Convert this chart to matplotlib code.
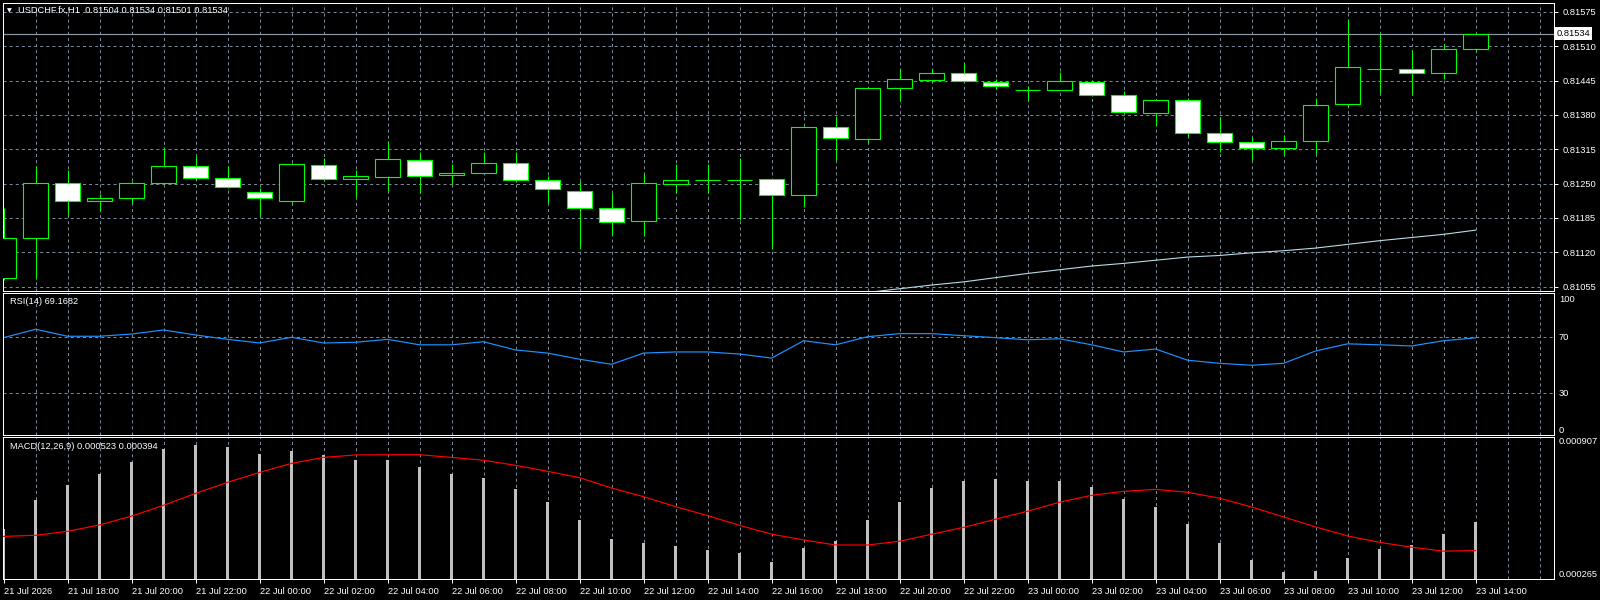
import matplotlib
matplotlib.use("Agg")
import matplotlib.pyplot as plt
import matplotlib.transforms as mtransforms
import numpy as np

plt.rcParams['font.family'] = ['Liberation Sans', 'DejaVu Sans']
plt.rcParams['lines.scale_dashes'] = False

# ---------------- data ----------------
symbol_header = "USDCHF.fx,H1  0.81504 0.81534 0.81501 0.81534"
rsi_header = "RSI(14) 69.1682"
macd_header = "MACD(12,26,9) 0.000523 0.000394"

opens = [0.81071, 0.81148, 0.81251, 0.81217, 0.81222, 0.81251, 0.81283, 0.81260, 0.81234, 0.81218,
         0.81285, 0.81258, 0.81262, 0.81294, 0.81266, 0.81271, 0.81289, 0.81256, 0.81237, 0.81203,
         0.81179, 0.81249, 0.81256, 0.81256, 0.81258, 0.81228, 0.81357, 0.81334, 0.81432, 0.81446,
         0.81459, 0.81442, 0.81427, 0.81427, 0.81442, 0.81417, 0.81383, 0.81408, 0.81345, 0.81328,
         0.81317, 0.81330, 0.81400, 0.81467, 0.81467, 0.81459, 0.81504]
highs = [0.81203, 0.81283, 0.81275, 0.81230, 0.81255, 0.81320, 0.81302, 0.81284, 0.81241, 0.81290,
         0.81298, 0.81276, 0.81331, 0.81310, 0.81287, 0.81310, 0.81309, 0.81264, 0.81255, 0.81232,
         0.81268, 0.81287, 0.81287, 0.81298, 0.81259, 0.81359, 0.81378, 0.81431, 0.81468, 0.81468,
         0.81479, 0.81449, 0.81434, 0.81461, 0.81446, 0.81425, 0.81411, 0.81412, 0.81377, 0.81338,
         0.81343, 0.81412, 0.81562, 0.81535, 0.81503, 0.81514, 0.81534]
lows = [0.81068, 0.81069, 0.81191, 0.81199, 0.81214, 0.81249, 0.81257, 0.81242, 0.81189, 0.81213,
        0.81255, 0.81225, 0.81237, 0.81233, 0.81249, 0.81270, 0.81254, 0.81214, 0.81126, 0.81153,
        0.81150, 0.81233, 0.81233, 0.81182, 0.81126, 0.81205, 0.81295, 0.81329, 0.81407, 0.81442,
        0.81442, 0.81429, 0.81408, 0.81427, 0.81415, 0.81381, 0.81360, 0.81340, 0.81309, 0.81295,
        0.81304, 0.81307, 0.81396, 0.81421, 0.81419, 0.81448, 0.81501]
closes = [0.81148, 0.81251, 0.81217, 0.81222, 0.81251, 0.81283, 0.81260, 0.81243, 0.81222, 0.81287,
          0.81258, 0.81264, 0.81296, 0.81264, 0.81271, 0.81289, 0.81256, 0.81239, 0.81203, 0.81177,
          0.81251, 0.81256, 0.81257, 0.81256, 0.81228, 0.81357, 0.81336, 0.81431, 0.81448, 0.81459,
          0.81444, 0.81434, 0.81428, 0.81444, 0.81417, 0.81385, 0.81408, 0.81345, 0.81328, 0.81317,
          0.81330, 0.81398, 0.81470, 0.81468, 0.81459, 0.81504, 0.81534]

ma_start = 27
ma_values = [0.81044, 0.81051, 0.81058, 0.81064, 0.81072, 0.81080, 0.81087, 0.81094, 0.81099, 0.81105,
             0.81111, 0.81114, 0.81119, 0.81123, 0.81128, 0.81135, 0.81142, 0.81148, 0.81154, 0.81162]

rsi = [69.3, 75.3, 70.3, 70.3, 71.9, 74.8, 71.2, 68.1, 65.5, 69.6, 65.5, 66.0, 68.1,
       64.2, 64.2, 66.4, 60.5, 58.3, 53.9, 50.3, 58.3, 59.1, 59.1, 57.6, 54.7, 67.1, 64.2,
       70.0, 72.2, 72.2, 70.7, 69.3, 67.8, 68.5, 64.2, 59.1, 61.2, 53.2, 51.0, 49.6, 51.0,
       59.8, 64.9, 64.2, 63.4, 67.1, 69.17]

macd_hist = [0.000492, 0.000623, 0.000691, 0.000741, 0.000795, 0.000854, 0.000872, 0.000863, 0.000831, 0.000845,
             0.000827, 0.000806, 0.000806, 0.000772, 0.000741, 0.000723, 0.000673, 0.000614, 0.000532, 0.000446,
             0.000428, 0.000415, 0.000396, 0.000383, 0.000342, 0.000405, 0.000437, 0.000532, 0.000614, 0.000677,
             0.000709, 0.000718, 0.000709, 0.000709, 0.000682, 0.000627, 0.000591, 0.000514, 0.000428, 0.000351,
             0.000297, 0.000301, 0.000360, 0.000401, 0.000419, 0.000469, 0.000523]
macd_signal = [0.000458, 0.000463, 0.000481, 0.000510, 0.000550, 0.000599, 0.000653, 0.000703, 0.000748, 0.000789,
               0.000816, 0.000827, 0.000828, 0.000828, 0.000816, 0.000803, 0.000780, 0.000753, 0.000724, 0.000677,
               0.000638, 0.000593, 0.000552, 0.000508, 0.000468, 0.000442, 0.000419, 0.000419, 0.000436, 0.000468,
               0.000499, 0.000536, 0.000572, 0.000613, 0.000644, 0.000662, 0.000671, 0.000658, 0.000631, 0.000591,
               0.000546, 0.000501, 0.000460, 0.000431, 0.000409, 0.000391, 0.000394]

price_levels = [0.81575, 0.81510, 0.81445, 0.81380, 0.81315, 0.81250, 0.81185, 0.81120, 0.81055]
bid_price = 0.81534
rsi_levels = [100, 70, 30, 0]
macd_range = [0.000265, 0.000907]

x_tick_labels = ["21 Jul 2026", "21 Jul 18:00", "21 Jul 20:00", "21 Jul 22:00", "22 Jul 00:00",
                 "22 Jul 02:00", "22 Jul 04:00", "22 Jul 06:00", "22 Jul 08:00", "22 Jul 10:00",
                 "22 Jul 12:00", "22 Jul 14:00", "22 Jul 16:00", "22 Jul 18:00", "22 Jul 20:00",
                 "22 Jul 22:00", "23 Jul 00:00", "23 Jul 02:00", "23 Jul 04:00", "23 Jul 06:00",
                 "23 Jul 08:00", "23 Jul 10:00", "23 Jul 12:00", "23 Jul 14:00"]

# ---------------- styling ----------------
W, H = 1600, 600
BG = "black"
GRID = "#778899"
LIME = "#00ff00"
FS = 6.7
PX = 0.72  # one pixel in points

fig = plt.figure(figsize=(W / 100, H / 100), dpi=100, facecolor=BG)


def px_axes(x0, y0, x1, y1):
    ax = fig.add_axes([x0 / W, 1 - y1 / H, (x1 - x0) / W, (y1 - y0) / H])
    ax.set_facecolor(BG)
    for s in ax.spines.values():
        s.set_color("white")
        s.set_linewidth(PX)
    return ax


n = len(opens)
x = np.arange(n)
XL = (2.7 - 3.6) / 32.0
XR = (1554 - 3.6) / 32.0
dash = (0, (2.2, 2.2))

ax_main = px_axes(2.7, 2.7, 1554, 290.7)
ax_rsi = px_axes(2.7, 292.7, 1554, 435.3)
ax_macd = px_axes(2.7, 437.3, 1554, 579)

for ax in (ax_main, ax_rsi, ax_macd):
    ax.set_xlim(XL, XR)
    for gx in range(1, 49):
        ax.axvline(gx, color=GRID, lw=PX, ls=dash, zorder=0.5)
    ax.yaxis.tick_right()
    ax.tick_params(axis="y", colors="white", labelcolor="white", length=3, width=PX,
                   labelsize=FS, pad=3)
    ax.tick_params(axis="x", bottom=False, labelbottom=False)

# ---- main price panel ----
ax_main.set_ylim(0.810473, 0.815926)
for lv in price_levels:
    ax_main.axhline(lv, color=GRID, lw=PX, ls=dash, zorder=0.5)
ax_main.set_yticks(price_levels)
ax_main.set_yticklabels([f"{v:.5f}" for v in price_levels])

o = np.array(opens); c = np.array(closes); h = np.array(highs); l = np.array(lows)
ax_main.vlines(x, l, h, color=LIME, lw=PX, zorder=2)
bull = c >= o
face = np.where(bull, "black", "white")
ax_main.bar(x, np.abs(c - o), bottom=np.minimum(o, c), width=0.76, color=list(face),
            edgecolor=LIME, linewidth=PX * 1.1, zorder=3)

ax_main.plot(np.arange(ma_start, ma_start + len(ma_values)), ma_values, color="#b8dfe8",
             lw=PX * 1.1, zorder=2.5, clip_on=True)

ax_main.axhline(bid_price, color="#8b98a8", lw=PX * 1.2, zorder=1)
trans = mtransforms.blended_transform_factory(ax_main.transAxes, ax_main.transData)
ax_main.text(1.0015, bid_price, "0.81534", transform=trans, ha="left", va="center",
             fontsize=FS, color="black", zorder=10,
             bbox=dict(boxstyle="square,pad=0.2", fc="white", ec="white", lw=0))

fig.text(7 / W, 1 - 10.7 / H, "\u25bc", fontsize=4.5, color="white", ha="left", va="center",
         family="DejaVu Sans")
fig.text(18 / W, 1 - 10.7 / H, symbol_header, fontsize=FS, color="white", ha="left", va="center")

# ---- RSI panel ----
ax_rsi.set_ylim(-0.4, 101.4)
for lv in (70, 30, 0):
    ax_rsi.axhline(lv, color=GRID, lw=PX, ls=dash, zorder=0.5)
ax_rsi.plot(x, rsi, color="#1e90ff", lw=PX * 1.2, zorder=2)
ax_rsi.set_yticks(rsi_levels)
ax_rsi.set_yticklabels([str(v) for v in rsi_levels])
ax_rsi.tick_params(axis="y", length=0, pad=3.5)
rl = ax_rsi.get_yticklabels()
rl[0].set_va("top")
rl[-1].set_va("bottom")
ax_rsi.text(7.3 / 1551.3, 1 - 9 / 142.6, rsi_header, transform=ax_rsi.transAxes, fontsize=FS,
            color="white", ha="left", va="center")

# ---- MACD panel ----
ax_macd.set_ylim(macd_range[0], macd_range[1])
ax_macd.bar(x, macd_hist, width=0.1, color="#c0c0c0", zorder=2)
ax_macd.plot(x, macd_signal, color="red", lw=PX * 1.2, zorder=3)
ax_macd.set_yticks(macd_range)
ax_macd.set_yticklabels([f"{v:.6f}" for v in macd_range])
ax_macd.tick_params(axis="y", length=0, pad=3.5)
ml = ax_macd.get_yticklabels()
ml[0].set_va("bottom")
ml[1].set_va("top")
ax_macd.text(7.3 / 1551.3, 1 - 9 / 141.7, macd_header, transform=ax_macd.transAxes,
             fontsize=FS, color="white", ha="left", va="center")

ax_macd.tick_params(axis="x", bottom=True, labelbottom=True, colors="white", length=3,
                    width=PX, labelsize=FS, pad=3, direction="out")
ax_macd.set_xticks(np.arange(0, n, 2))
ax_macd.set_xticklabels(x_tick_labels)
for t in ax_macd.get_xticklabels():
    t.set_ha("left")
    t.set_color("white")

fig.savefig("out.png", dpi=100, facecolor=BG)
